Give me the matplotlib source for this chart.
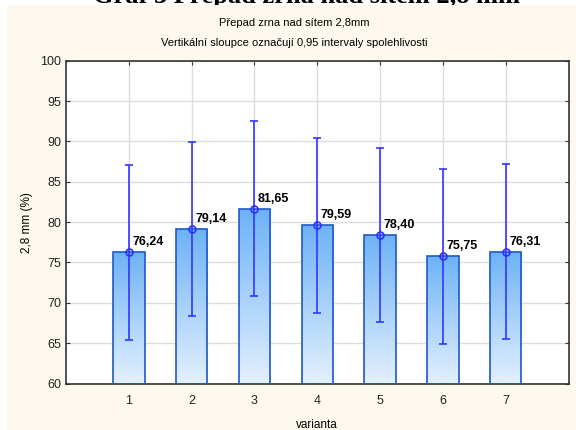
import numpy as np
import matplotlib
matplotlib.use('Agg')
import matplotlib.pyplot as plt
from matplotlib.colors import LinearSegmentedColormap
from matplotlib.patches import Rectangle

varianta = [1, 2, 3, 4, 5, 6, 7]
means = [76.24, 79.14, 81.65, 79.59, 78.40, 75.75, 76.31]
ci_half = [10.83, 10.83, 10.83, 10.83, 10.83, 10.83, 10.83]

plt.rcParams['font.family'] = ['Liberation Sans', 'DejaVu Sans']

fig = plt.figure(figsize=(5.76, 4.30), dpi=100)
fig.patch.set_facecolor('white')
# cream background panel
fig.patches.append(Rectangle((7/576, 0), 1 - 7/576, 1 - 5/430, transform=fig.transFigure,
                             facecolor='#FEF9EE', edgecolor='none', zorder=-5))

# main title, mostly cut off at the top like in the source
fig.text(0.532, 1 - 3.5/430, 'Graf 3 Přepad zrna nad sítem 2,8 mm', ha='center', va='baseline',
         fontsize=19, fontweight='bold', family=['Liberation Serif', 'DejaVu Serif'], zorder=-6)
fig.text(0.511, 1 - 23/430, 'Přepad zrna nad sítem 2,8mm', ha='center', va='center', fontsize=8)
fig.text(0.511, 1 - 43/430, 'Vertikální sloupce označují 0,95 intervaly spolehlivosti',
         ha='center', va='center', fontsize=8)

ax = fig.add_axes([66/576, 1 - 383.5/430, (568.5 - 66)/576, (383.5 - 60.7)/430])
ax.set_facecolor('white')

cmap = LinearSegmentedColormap.from_list('bargrad', ['#E3F0FE', '#6CB2F6'])
grad = np.linspace(0, 1, 256).reshape(-1, 1)

bars = ax.bar(varianta, [m - 60 for m in means], bottom=60, width=0.5,
              facecolor='none', edgecolor='#2058C8', linewidth=1.2, zorder=3)
for b in bars:
    x0 = b.get_x()
    im = ax.imshow(grad, extent=[x0, x0 + b.get_width(), 60, 60 + b.get_height()],
                   origin='lower', aspect='auto', cmap=cmap, zorder=2)
    im.set_clip_path(b)

ax.errorbar(varianta, means, yerr=ci_half, fmt='o', color='#2F2FFF', ecolor='#3535FF',
            elinewidth=1.2, capsize=3, capthick=1.2, markersize=5,
            markerfacecolor='none', markeredgewidth=1.2, zorder=4)

for x, m in zip(varianta, means):
    ax.annotate(f'{m:.2f}'.replace('.', ','), (x, m), xytext=(2.5, 5), textcoords='offset points',
                ha='left', va='baseline', fontsize=9, fontweight='bold', zorder=5)

ax.set_xlim(0, 8)
ax.set_ylim(60, 100)
ax.set_xticks(varianta)
ax.set_yticks(np.arange(60, 101, 5))
ax.grid(True, color='#DDDDDD', linewidth=1, zorder=0)
ax.set_axisbelow(True)
ax.tick_params(direction='in', length=3, labelsize=9, colors='#333333', labelcolor='#222222',
               top=True, right=True)
ax.tick_params(axis='x', pad=8)
for s in ax.spines.values():
    s.set_color('#333333')
    s.set_linewidth(1.2)
ax.set_xlabel('varianta', fontsize=8.5, labelpad=9)
ax.set_ylabel('2,8 mm (%)', fontsize=8.5, labelpad=5)

fig.savefig('out.png', dpi=100, facecolor=fig.get_facecolor())
